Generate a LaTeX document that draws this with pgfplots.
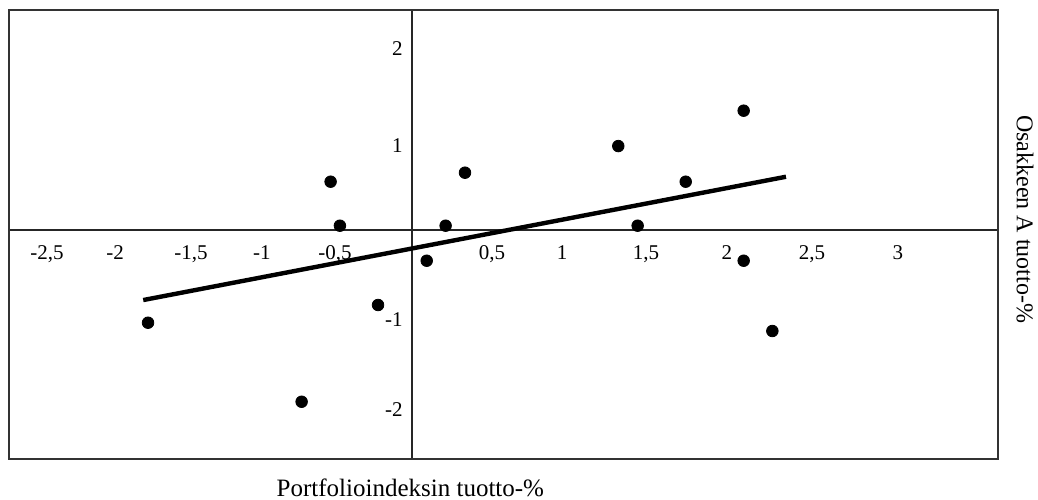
\documentclass[border=0pt]{standalone}
\usepackage{fontspec}
\setmainfont{Liberation Serif}
\usepackage{pgfplots}
\pgfplotsset{compat=1.18}
\begin{document}
\begin{tikzpicture}
\begin{axis}[
  x=77.5pt, y=45pt,
  xmin=-2.602, xmax=3.781, ymin=-2.539, ymax=2.448,
  axis lines=middle,
  axis line style={-, black!85, line width=0.8pt},
  major tick length=0pt,
  xtick={-2.355,-1.916,-1.426,-0.968,-0.497,0.516,0.968,1.510,2.032,2.581,3.135},
  xticklabels={{-2,5},{-2},{-1,5},{-1},{-0,5},{0,5},{1},{1,5},{2},{2,5},{3}},
  ytick={-1.99,-1.0,0.944,2.02},
  yticklabels={{-2},{-1},{1},{2}},
  x tick label style={font=\fontsize{10.5}{12}\selectfont, inner sep=0pt, anchor=north, yshift=-7.5pt},
  y tick label style={font=\fontsize{10.5}{12}\selectfont, inner sep=0pt, anchor=east, xshift=-4.5pt},
  every axis x label/.style={at={(axis description cs:0.406,-0.0647)}, anchor=center, inner sep=0pt, font=\fontsize{12.5}{14}\selectfont},
  every axis y label/.style={at={(axis description cs:1.0273,0.5335)}, rotate=-90, anchor=center, inner sep=0pt, font=\fontsize{12}{14}\selectfont},
  xlabel={Portfolioindeksin tuotto-\%},
  ylabel={Osakkeen A tuotto-\%},
  clip=false,
]
\draw[black!80, line width=1pt] (rel axis cs:0,0) rectangle (rel axis cs:1,1);
\path (axis cs:-2.658,-2.989) rectangle (axis cs:4.039,2.556);
\addplot[only marks, mark=*, mark size=2.9pt, black] coordinates {
(-1.703,-1.030) (-0.712,-1.908) (-0.525,0.537) (-0.465,0.048) (-0.219,-0.833)
(0.095,-0.341) (0.217,0.048) (0.342,0.637) (1.331,0.933) (1.456,0.048)
(1.766,0.537) (2.140,1.326) (2.140,-0.341) (2.325,-1.122)
};
\addplot[black, line width=2.2pt] coordinates {(-1.734,-0.778) (2.413,0.592)};
\end{axis}
\end{tikzpicture}
\end{document}
